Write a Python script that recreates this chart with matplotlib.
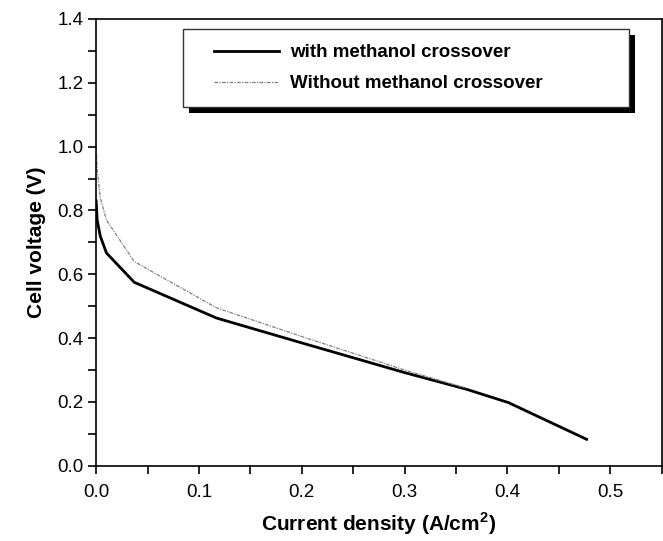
import matplotlib
matplotlib.use('Agg')
import matplotlib.pyplot as plt
from matplotlib.patches import Rectangle
from matplotlib.ticker import MultipleLocator

plt.rcParams['font.family'] = ['Liberation Sans', 'DejaVu Sans']

# Polarization curves (current density A/cm2, cell voltage V)
j_with = [0.0, 0.001, 0.004, 0.010, 0.037, 0.117, 0.200, 0.300, 0.360, 0.401, 0.477]
v_with = [0.830, 0.770, 0.720, 0.667, 0.575, 0.463, 0.385, 0.292, 0.240, 0.198, 0.083]

j_without = [0.0, 0.001, 0.004, 0.010, 0.037, 0.117, 0.200, 0.300, 0.360]
v_without = [1.000, 0.930, 0.840, 0.770, 0.640, 0.495, 0.405, 0.300, 0.243]

label_with = 'with methanol crossover'
label_without = 'Without methanol crossover'

fig = plt.figure(figsize=(6.63, 5.41), dpi=100)
ax = fig.add_axes([0.145, 0.139, 0.853, 0.826])

ax.plot(j_with, v_with, color='black', lw=2.0, label=label_with)
ax.plot(j_without, v_without, color='#808080', lw=0.9,
        linestyle=(0, (3, 1, 1, 1)), label=label_without)

ax.set_xlim(0, 0.55)
ax.set_ylim(0, 1.4)
ax.xaxis.set_major_locator(MultipleLocator(0.1))
ax.xaxis.set_minor_locator(MultipleLocator(0.05))
ax.yaxis.set_major_locator(MultipleLocator(0.2))
ax.yaxis.set_minor_locator(MultipleLocator(0.1))
ax.tick_params(which='both', direction='out', length=6, width=1.2,
               labelsize=13.5, top=False, right=False)
ax.tick_params(axis='x', pad=7)
ax.tick_params(axis='y', pad=3)
for s in ax.spines.values():
    s.set_linewidth(1.2)

ax.set_xlabel('Current density (A/cm$^\\mathregular{2}$)', fontsize=15,
              fontweight='bold', labelpad=7)
ax.set_ylabel('Cell voltage (V)', fontsize=15, fontweight='bold', labelpad=8)

# legend box with a solid black drop shadow
bx, by, bw, bh = 0.154, 0.803, 0.788, 0.175
ax.add_patch(Rectangle((bx + 0.011, by - 0.014), bw, bh, transform=ax.transAxes,
                       facecolor='black', edgecolor='none', zorder=5,
                       clip_on=False))
ax.add_patch(Rectangle((bx, by), bw, bh, transform=ax.transAxes,
                       facecolor='white', edgecolor='#333333', lw=1.0,
                       zorder=6, clip_on=False))

leg = ax.legend(loc='upper left', bbox_to_anchor=(0.208, 0.944),
                borderaxespad=0, borderpad=0, frameon=False,
                prop={'weight': 'bold', 'size': 13.5},
                handlelength=3.5, handletextpad=0.55, labelspacing=0.76)
leg.set_zorder(7)
leg.get_lines()[0].set_linewidth(2.0)

fig.savefig('out.png', dpi=100)
